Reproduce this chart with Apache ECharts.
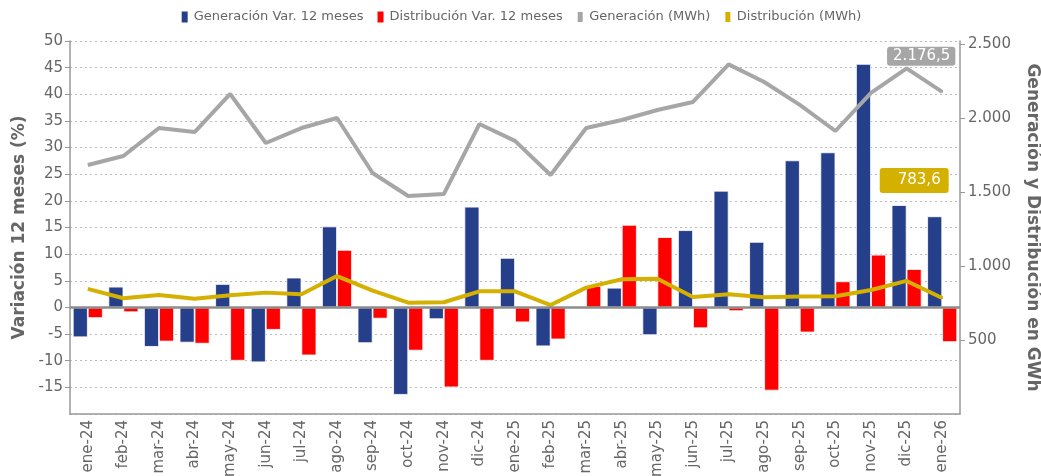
<!DOCTYPE html>
<html>
<head>
<meta charset="utf-8">
<script src="https://cdn.jsdelivr.net/npm/echarts@6/dist/echarts.min.js"></script>
<style>
html,body{margin:0;padding:0;background:#fff;}
#c{width:1041px;height:476px;}
</style>
</head>
<body>
<div id="c"></div>
<script>
const months = ['ene-24','feb-24','mar-24','abr-24','may-24','jun-24','jul-24','ago-24','sep-24','oct-24','nov-24','dic-24',
  'ene-25','feb-25','mar-25','abr-25','may-25','jun-25','jul-25','ago-25','sep-25','oct-25','nov-25','dic-25','ene-26'];
const genVar = [-5.6, 3.9, -7.4, -6.6, 4.4, -10.3, 5.6, 15.2, -6.7, -16.4, -2.2, 18.9,
  9.3, -7.3, 0, 3.7, -5.2, 14.5, 21.9, 12.3, 27.6, 29.1, 45.7, 19.2, 17.1];
const disVar = [-2.0, -0.9, -6.4, -6.8, -10.0, -4.2, -9.0, 10.8, -2.1, -8.1, -15.0, -10.0,
  -2.8, -6.0, 4.0, 15.5, 13.2, -3.9, -0.7, -15.6, -4.7, 4.9, 9.9, 7.2, -6.5];
const genMWh = [1682, 1743, 1932, 1905, 2162, 1831, 1932, 2000, 1628, 1473, 1486, 1959,
  1845, 1615, 1932, 1986, 2054, 2108, 2362, 2243, 2088, 1912, 2169, 2335, 2176.5];
const disMWh = [845, 782, 804, 779, 802, 820, 809, 932, 833, 752, 755, 829,
  829, 736, 854, 910, 914, 791, 809, 788, 793, 795, 838, 899, 783.6];
const legendNames = ['Generación Var. 12 meses', 'Distribución Var. 12 meses', 'Generación (MWh)', 'Distribución (MWh)'];
const leftAxisName = 'Variación 12 meses (%)';
const rightAxisName = 'Generación y Distribución en GWh';

const C_BLUE = '#263F8A', C_RED = '#FF0000', C_GRAY = '#A6A6A6', C_YEL = '#D4B000', TXT = '#666';
const FONT = 'DejaVu Sans';

function fmtES(v, dec) {
  let s = dec ? v.toFixed(dec) : String(Math.round(v));
  let parts = s.split('.');
  parts[0] = parts[0].replace(/\B(?=(\d{3})+(?!\d))/g, '.');
  return parts.join(',');
}

function withLastLabel(arr, color, offset, padding) {
  return arr.map((v, i) => i === arr.length - 1 ? {
    value: v,
    symbol: 'circle', symbolSize: 2,
    label: {
      show: true, position: 'top', distance: 5, offset: offset,
      formatter: p => fmtES(p.value, 1),
      backgroundColor: color, color: '#fff', fontSize: 15, fontFamily: FONT,
      padding: padding, borderRadius: 3
    }
  } : v);
}

const chart = echarts.init(document.getElementById('c'), null, {renderer: 'canvas'});
chart.setOption({
  animation: false,
  textStyle: {fontFamily: FONT},
  legend: {
    top: 4, left: 'center', itemGap: 12, itemWidth: 8, itemHeight: 13,
    textStyle: {color: TXT, fontSize: 13, fontFamily: FONT},
    data: [
      {name: legendNames[0], icon: 'rect'},
      {name: legendNames[1], icon: 'rect'},
      {name: legendNames[2], icon: 'rect', itemStyle: {borderColor: '#fff', borderWidth: 3}},
      {name: legendNames[3], icon: 'rect', itemStyle: {borderColor: '#fff', borderWidth: 3}}
    ]
  },
  grid: {left: 70, right: 81, top: 41, bottom: 62, containLabel: false, outerBoundsMode: 'none'},
  xAxis: {
    type: 'category', data: months,
    axisLine: {onZero: false, lineStyle: {color: '#999', width: 1.5}},
    axisTick: {alignWithLabel: true, length: 5, lineStyle: {color: '#999'}},
    axisLabel: {rotate: 90, fontSize: 15, color: TXT, margin: 6, fontFamily: FONT},
    splitLine: {show: false}
  },
  yAxis: [
    {
      type: 'value', position: 'left', min: -20, max: 50, interval: 5,
      name: leftAxisName, nameLocation: 'middle', nameGap: 36, nameRotate: 90,
      nameTextStyle: {color: TXT, fontSize: 17, fontWeight: 'bold', fontFamily: FONT},
      axisLine: {show: true, lineStyle: {color: '#999', width: 1.5}},
      axisTick: {show: true, length: 5, lineStyle: {color: '#999'}},
      axisLabel: {color: TXT, fontSize: 15, margin: 7, showMinLabel: false, fontFamily: FONT},
      splitLine: {show: true, lineStyle: {color: '#bbb', type: [2, 3], width: 1}}
    },
    {
      type: 'value', position: 'right', min: 0, max: 2520, splitNumber: 5,
      name: rightAxisName, nameLocation: 'middle', nameGap: 64, nameRotate: -90,
      nameTextStyle: {color: TXT, fontSize: 17, fontWeight: 'bold', fontFamily: FONT},
      axisLine: {show: true, lineStyle: {color: '#999', width: 1.5}},
      axisTick: {show: true, length: 5, lineStyle: {color: '#999'}},
      axisLabel: {color: TXT, fontSize: 15, margin: 8, showMinLabel: false, showMaxLabel: false,
        fontFamily: FONT, formatter: v => fmtES(v)},
      splitLine: {show: false}
    }
  ],
  series: [
    {
      name: legendNames[0], type: 'bar', yAxisIndex: 0, data: genVar,
      barWidth: 15, barGap: '0%',
      itemStyle: {color: C_BLUE, borderColor: '#fff', borderWidth: 0.8},
      markLine: {
        silent: true, symbol: 'none', label: {show: false}, z: 10,
        lineStyle: {color: '#8c8c8c', width: 2.5, type: 'solid'},
        data: [{yAxis: 0}]
      }
    },
    {
      name: legendNames[1], type: 'bar', yAxisIndex: 0, data: disVar,
      barWidth: 15, barGap: '0%',
      itemStyle: {color: C_RED, borderColor: '#fff', borderWidth: 0.8}
    },
    {
      name: legendNames[2], type: 'line', yAxisIndex: 1,
      data: withLastLabel(genMWh, C_GRAY, [-21, -20], [2, 5, 2, 6]),
      showSymbol: true, symbol: 'none', z: 5,
      lineStyle: {color: C_GRAY, width: 4}, itemStyle: {color: C_GRAY}
    },
    {
      name: legendNames[3], type: 'line', yAxisIndex: 1,
      data: withLastLabel(disMWh, C_YEL, [-28, -99], [5, 8, 5, 18]),
      showSymbol: true, symbol: 'none', z: 5,
      lineStyle: {color: C_YEL, width: 4}, itemStyle: {color: C_YEL}
    }
  ]
});
</script>
</body>
</html>
